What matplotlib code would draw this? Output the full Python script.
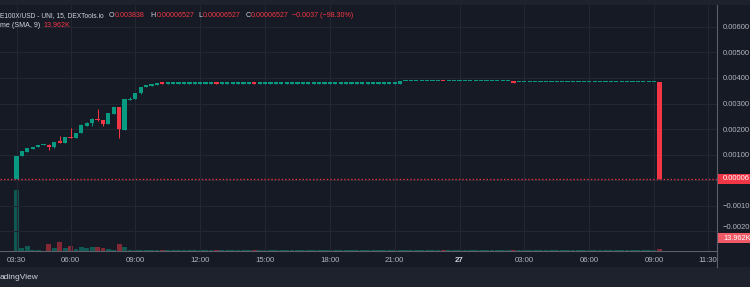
import matplotlib
matplotlib.use("Agg")
import matplotlib.pyplot as plt
import matplotlib.transforms as mtransforms
from matplotlib.patches import Rectangle
from matplotlib.lines import Line2D
import numpy as np

# ---------------- data (15-minute candles from 03:30 on the 26th) ----------------
opens = [
    0.00005, 0.00094, 0.00112, 0.00123, 0.00130, 0.00137, 0.00139, 0.00129, 0.00151, 0.00147,
    0.00170, 0.00166, 0.00184, 0.00214, 0.00224, 0.00239, 0.00236, 0.00220, 0.00260, 0.00285,
    0.00198, 0.00314, 0.00318, 0.00340, 0.00366, 0.00368, 0.00374, 0.00381, 0.00378, 0.00378,
    0.00378, 0.00378, 0.00378, 0.00378, 0.00378, 0.00378, 0.00378, 0.00380, 0.00378, 0.00378,
    0.00378, 0.00378, 0.00378, 0.00378, 0.00379, 0.00378, 0.00378, 0.00378, 0.00378, 0.00378,
    0.00378, 0.00378, 0.00378, 0.00378, 0.00378, 0.00378, 0.00378, 0.00378, 0.00378, 0.00378,
    0.00378, 0.00378, 0.00378, 0.00378, 0.00378, 0.00378, 0.00378, 0.00378, 0.00378, 0.00378,
    0.00378, 0.00378, 0.00386, 0.00386, 0.00386, 0.00386, 0.00386, 0.00386, 0.00386, 0.00387,
    0.00386, 0.00386, 0.00386, 0.00386, 0.00386, 0.00386, 0.00386, 0.00386, 0.00386, 0.00386,
    0.00386, 0.00386, 0.00386, 0.00383, 0.00383, 0.00383, 0.00383, 0.00383, 0.00383, 0.00383,
    0.00383, 0.00383, 0.00383, 0.00383, 0.00383, 0.00383, 0.00383, 0.00383, 0.00383, 0.00383,
    0.00383, 0.00383, 0.00383, 0.00383, 0.00383, 0.00383, 0.00383, 0.00383, 0.00383, 0.003838,
]
highs = [
    0.00095, 0.00116, 0.00126, 0.00132, 0.00138, 0.00141, 0.00140, 0.00151, 0.00173, 0.00170,
    0.00203, 0.00186, 0.00218, 0.00228, 0.00242, 0.00279, 0.00237, 0.00262, 0.00286, 0.00286,
    0.00316, 0.00324, 0.00342, 0.00366, 0.00371, 0.00377, 0.00380, 0.00381, 0.00379, 0.00379,
    0.00379, 0.00380, 0.00380, 0.00380, 0.00380, 0.00380, 0.00380, 0.00380, 0.00380, 0.00380,
    0.00380, 0.00380, 0.00380, 0.00380, 0.00379, 0.00379, 0.00379, 0.00379, 0.00379, 0.00379,
    0.00379, 0.00379, 0.00379, 0.00379, 0.00379, 0.00379, 0.00379, 0.00379, 0.00379, 0.00379,
    0.00379, 0.00379, 0.00379, 0.00379, 0.00379, 0.00379, 0.00379, 0.00379, 0.00379, 0.00379,
    0.00379, 0.00388, 0.00387, 0.00387, 0.00387, 0.00387, 0.00387, 0.00387, 0.00387, 0.00387,
    0.00387, 0.00387, 0.00387, 0.00387, 0.00387, 0.00387, 0.00387, 0.00387, 0.00387, 0.00387,
    0.00387, 0.00387, 0.00386, 0.003838, 0.003838, 0.003838, 0.003838, 0.003838, 0.003838, 0.003838,
    0.003838, 0.003838, 0.003838, 0.003838, 0.003838, 0.003838, 0.003838, 0.003838, 0.003838, 0.003838,
    0.003838, 0.003838, 0.003838, 0.003838, 0.003838, 0.003838, 0.003838, 0.003838, 0.003838, 0.003838,
]
lows = [
    0.00005, 0.00093, 0.00111, 0.00122, 0.00129, 0.00136, 0.00118, 0.00128, 0.00146, 0.00146,
    0.00165, 0.00165, 0.00183, 0.00213, 0.00213, 0.00233, 0.00212, 0.00219, 0.00259, 0.00166,
    0.00197, 0.00313, 0.00317, 0.00339, 0.00365, 0.00367, 0.00373, 0.00377, 0.00378, 0.00378,
    0.00378, 0.00378, 0.00378, 0.00378, 0.00378, 0.00378, 0.00378, 0.00378, 0.00378, 0.00378,
    0.00378, 0.00378, 0.00378, 0.00378, 0.00378, 0.00378, 0.00378, 0.00378, 0.00378, 0.00378,
    0.00378, 0.00378, 0.00378, 0.00378, 0.00378, 0.00378, 0.00378, 0.00378, 0.00378, 0.00378,
    0.00378, 0.00378, 0.00378, 0.00378, 0.00378, 0.00378, 0.00378, 0.00378, 0.00378, 0.00378,
    0.00378, 0.00378, 0.00386, 0.00386, 0.00386, 0.00386, 0.00386, 0.00386, 0.00386, 0.00386,
    0.00386, 0.00386, 0.00386, 0.00386, 0.00386, 0.00386, 0.00386, 0.00386, 0.00386, 0.00386,
    0.00386, 0.00386, 0.00382, 0.00383, 0.00383, 0.00383, 0.00383, 0.00383, 0.00383, 0.00383,
    0.00383, 0.00383, 0.00383, 0.00383, 0.00383, 0.00383, 0.00383, 0.00383, 0.00383, 0.00383,
    0.00383, 0.00383, 0.00383, 0.00383, 0.00383, 0.00383, 0.00383, 0.00383, 0.00383, 0.00006527,
]
closes = [
    0.00095, 0.00114, 0.00125, 0.00131, 0.00138, 0.00140, 0.00129, 0.00151, 0.00147, 0.00170,
    0.00166, 0.00186, 0.00216, 0.00225, 0.00241, 0.00234, 0.00220, 0.00262, 0.00285, 0.00199,
    0.00316, 0.00319, 0.00342, 0.00366, 0.00371, 0.00377, 0.00380, 0.00378, 0.00379, 0.00379,
    0.00379, 0.00380, 0.00380, 0.00380, 0.00380, 0.00380, 0.00380, 0.00378, 0.00380, 0.00380,
    0.00380, 0.00380, 0.00380, 0.00380, 0.00378, 0.00379, 0.00379, 0.00379, 0.00379, 0.00379,
    0.00379, 0.00379, 0.00379, 0.00379, 0.00379, 0.00379, 0.00379, 0.00379, 0.00379, 0.00379,
    0.00379, 0.00379, 0.00379, 0.00379, 0.00379, 0.00379, 0.00379, 0.00379, 0.00379, 0.00379,
    0.00379, 0.00388, 0.00387, 0.00387, 0.00387, 0.00387, 0.00387, 0.00387, 0.00387, 0.00386,
    0.00387, 0.00387, 0.00387, 0.00387, 0.00387, 0.00387, 0.00387, 0.00387, 0.00387, 0.00387,
    0.00387, 0.00387, 0.00382, 0.003838, 0.003838, 0.003838, 0.003838, 0.003838, 0.003838, 0.003838,
    0.003838, 0.003838, 0.003838, 0.003838, 0.003838, 0.003838, 0.003838, 0.003838, 0.003838, 0.003838,
    0.003838, 0.003838, 0.003838, 0.003838, 0.003838, 0.003838, 0.003838, 0.003838, 0.003838, 0.00006527,
]
volumes_k = [
    425, 19, 35, 7, 7, 3, 49, 21, 63, 19,
    37, 14, 28, 19, 28, 26, 21, 12, 7, 49,
    28, 9, 7, 7, 9, 6, 5, 5, 4, 4,
    4, 5, 4, 4, 5, 4, 4, 5, 4, 4,
    4, 4, 4, 4, 5, 4, 4, 4, 4, 4,
    4, 4, 4, 4, 4, 4, 4, 4, 4, 4,
    4, 4, 4, 4, 4, 4, 4, 4, 4, 4,
    4, 5, 4, 4, 4, 4, 4, 4, 4, 5,
    4, 4, 4, 4, 4, 4, 4, 4, 4, 4,
    4, 4, 5, 4, 4, 4, 4, 4, 4, 4,
    4, 4, 4, 4, 4, 4, 4, 4, 4, 4,
    4, 4, 4, 4, 4, 4, 4, 4, 4, 13.962,
]

time_tick_pos = [0, 10, 22, 34, 46, 58, 70, 82, 94, 106, 118, 128]
time_tick_labels = ["03:30", "06:00", "09:00", "12:00", "15:00", "18:00", "21:00",
                    "27", "03:00", "06:00", "09:00", "11:30"]
price_ticks = [-0.002, -0.001, 0.0, 0.001, 0.002, 0.003, 0.004, 0.005, 0.006]
price_tick_labels = ["\u22120.0020", "\u22120.0010", "", "0.00100", "0.00200",
                     "0.00300", "0.00400", "0.00500", "0.00600"]
last_price = 0.00006527
last_price_label = "0.00006"
last_volume_label = "13.962K"
title_text = "E100X/USD - UNI, 15, DEXTools.io"
ohlc_names = ["O", "H", "L", "C"]
ohlc_values = ["0.003838", "0.00006527", "0.00006527", "0.00006527"]
change_text = "\u22120.0037 (\u221298.30%)"
volume_title = "me (SMA, 9)"
brand_text = "adingView"

# ---------------- style ----------------
W, H = 750, 287
BG = "#161a25"
STRIP = "#1e222d"
GRID = "#232733"
UP = "#089981"
DOWN = "#f23645"
TXT = "#b2b5be"
LEG = "#d1d4dc"
AXLINE = "#5d606b"
plt.rcParams["font.family"] = ["Liberation Sans", "DejaVu Sans"]

def fx(px):
    return px / W

def fy(py):
    return 1 - py / H

fig = plt.figure(figsize=(W / 100, H / 100), dpi=100, facecolor=BG)

ax = fig.add_axes([0, fy(251), fx(717), (251 - 5) / H])
vax = ax.twinx()
ax.set_zorder(2)
vax.set_zorder(1)
ax.patch.set_visible(False)
vax.patch.set_facecolor(BG)

n = len(opens)
x = np.arange(n)
o = np.array(opens)
c = np.array(closes)
hi = np.array(highs)
lo = np.array(lows)
up = c >= o
cols = np.where(up, UP, DOWN)

ax.set_xlim(-3.054, 129.65)
ax.set_ylim(-0.002762, 0.006848)

# minimum body of ~1.2 px
min_body = 1.2 / 246 * (0.006848 + 0.002762)
bottoms = np.minimum(o, c)
heights = np.maximum(np.abs(c - o), min_body)

ax.vlines(x, lo, hi, colors=cols, lw=0.75, zorder=3)
ax.bar(x, heights, bottom=bottoms, width=0.78, color=cols, lw=0, zorder=4)

# volume
vol_cols = np.where(up, UP, DOWN)
vax.bar(x, volumes_k, width=0.9, color=vol_cols, alpha=0.5, lw=0)
vax.set_ylim(0, 1717)
vax.set_yticks([])
for s in vax.spines.values():
    s.set_visible(False)

# last price dotted line
ax.axhline(last_price, color=DOWN, lw=1.0, ls=(0, (1.0, 1.5)), alpha=0.9, zorder=2.5)

# grid & ticks
ax.set_axisbelow(True)
ax.grid(True, color=GRID, lw=0.8)
ax.yaxis.tick_right()
ax.set_yticks(price_ticks, price_tick_labels)
ax.set_xticks(time_tick_pos, time_tick_labels)
ax.tick_params(axis="y", length=0, pad=4.2, labelsize=5.5, labelcolor=TXT)
ax.tick_params(axis="x", length=0, pad=4.0, labelsize=5.6, labelcolor=TXT)
for lbl in ax.get_xticklabels():
    if lbl.get_text() == "27":
        lbl.set_fontweight("bold")
        lbl.set_color(LEG)
for lbl in ax.get_yticklabels():
    if lbl.get_text() == "\u22120.0020":
        lbl.set_va("bottom")

for side in ["left", "top"]:
    ax.spines[side].set_visible(False)
for side in ["right", "bottom"]:
    ax.spines[side].set_color(AXLINE)
    ax.spines[side].set_linewidth(0.8)

# strips
fig.add_artist(Rectangle((0, fy(5)), 1, 5 / H, transform=fig.transFigure,
                         facecolor=STRIP, edgecolor="none", zorder=0))
fig.add_artist(Rectangle((0, 0), 1, (H - 267) / H, transform=fig.transFigure,
                         facecolor=STRIP, edgecolor="none", zorder=0))
fig.add_artist(Line2D([fx(717.3), fx(717.3)], [fy(251), fy(267)], transform=fig.transFigure,
                      color=AXLINE, lw=0.8, zorder=1))

# last price label box (anchored to data y)
blend = mtransforms.blended_transform_factory(fig.transFigure, ax.transData)
box_h = 10 / 246 * (0.006848 + 0.002762)
fig.add_artist(Rectangle((fx(717.8), last_price - box_h / 2), fx(40), box_h, transform=blend,
                         facecolor=DOWN, edgecolor="none", zorder=5, clip_on=False))
fig.text(fx(722.5), last_price, last_price_label, transform=blend, color="white",
         fontsize=5.5, ha="left", va="center", zorder=6)

# volume label box
fig.add_artist(Rectangle((fx(717.8), fy(243)), fx(40), 10 / H, transform=fig.transFigure,
                         facecolor="#f05a66", edgecolor="none", zorder=5))
fig.text(fx(723.0), fy(238.2), last_volume_label, color="white", fontsize=5.3,
         ha="left", va="center", zorder=6)

# legend
ly1, ly2 = fy(15.7), fy(25.3)
fig.text(fx(0), ly1, title_text, color=LEG, fontsize=4.75, ha="left", va="center")
name_x = [109, 150.7, 198, 245.7]
val_x = [115, 157, 203, 251]
for nm, vl, nx, vx in zip(ohlc_names, ohlc_values, name_x, val_x):
    fig.text(fx(nx), ly1, nm, color=LEG, fontsize=5.1, ha="left", va="center")
    fig.text(fx(vx), ly1, vl, color=DOWN, fontsize=5.1, ha="left", va="center")
fig.text(fx(292.3), ly1, change_text, color=DOWN, fontsize=5.1, ha="left", va="center")
fig.text(fx(0), ly2, volume_title, color=LEG, fontsize=5.1, ha="left", va="center")
fig.text(fx(43.3), ly2, last_volume_label, color=DOWN, fontsize=5.1, ha="left", va="center")

# brand
fig.text(fx(0), fy(277.5), brand_text, color=LEG, fontsize=6.0, ha="left", va="center")

fig.savefig("out.png", dpi=100, facecolor=BG)
